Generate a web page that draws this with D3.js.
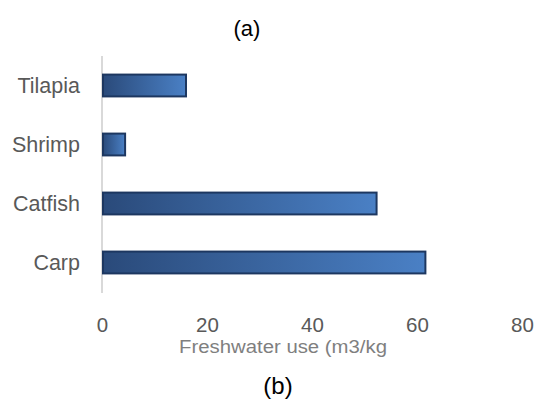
<!DOCTYPE html>
<html><head><meta charset="utf-8">
<script src="https://cdn.jsdelivr.net/npm/d3@7"></script>
<style>body{margin:0;background:#fff}svg{display:block}</style>
</head><body>
<svg id="c" width="538" height="399"></svg>
<script>
const categories = ["Tilapia", "Shrimp", "Catfish", "Carp"];
const values = [16, 4.4, 52.3, 61.6];
const xTicks = [0, 20, 40, 60, 80];
const xTitle = "Freshwater use (m3/kg";
const topLabel = "(a)";
const bottomLabel = "(b)";

const svg = d3.select("#c");
const mLeft = 102, mRight = 522, mTop = 56, mBottom = 292;
const x = d3.scaleLinear().domain([0, 80]).range([mLeft, mRight]);
const y = d3.scaleBand().domain(categories).range([mTop, mBottom]).paddingInner(0.63).paddingOuter(0.315);

const defs = svg.append("defs");
const g = defs.append("linearGradient").attr("id", "bg").attr("x1", "0").attr("x2", "1").attr("y1", "0").attr("y2", "0");
g.append("stop").attr("offset", "0").attr("stop-color", "#2a4a7a");
g.append("stop").attr("offset", "1").attr("stop-color", "#4a80c5");

// axis line
svg.append("line").attr("x1", x(0)).attr("x2", x(0)).attr("y1", mTop).attr("y2", mBottom + 1)
  .attr("stroke", "#d9d9d9").attr("stroke-width", 2);

svg.selectAll("rect.bar").data(categories).join("rect").attr("class", "bar")
  .attr("x", x(0) + 1)
  .attr("y", d => y(d))
  .attr("width", (d, i) => x(values[i]) - x(0) - 1)
  .attr("height", y.bandwidth())
  .attr("fill", "url(#bg)")
  .attr("stroke", "#1d3760").attr("stroke-width", 2);

const font = "'Liberation Sans', Arial, sans-serif";
svg.selectAll("text.cat").data(categories).join("text").attr("class", "cat")
  .attr("x", 80).attr("y", d => y(d) + y.bandwidth() / 2)
  .attr("dy", "0.36em").attr("text-anchor", "end")
  .attr("font-family", font).attr("font-size", 21.5).attr("fill", "#595959")
  .text(d => d);

const xAxis = d3.axisBottom(x).tickValues(xTicks).tickSize(0).tickPadding(0);
const ax = svg.append("g").attr("transform", `translate(0,${mBottom + 40})`).call(xAxis);
ax.select(".domain").remove();
ax.selectAll("text").attr("font-family", font).attr("font-size", 20.5).attr("fill", "#595959").attr("dy", "0");

svg.append("text").attr("x", 179).attr("y", 352.5).attr("text-anchor", "start")
  .attr("textLength", 208).attr("lengthAdjust", "spacingAndGlyphs")
  .attr("font-family", font).attr("font-size", 17.5).attr("fill", "#7f7f7f").text(xTitle);

svg.append("text").attr("x", 247).attr("y", 36).attr("text-anchor", "middle")
  .attr("font-family", font).attr("font-size", 22).attr("fill", "#000").text(topLabel);

svg.append("text").attr("x", 278).attr("y", 394).attr("text-anchor", "middle")
  .attr("font-family", font).attr("font-size", 24).attr("fill", "#000").text(bottomLabel);
</script>
</body></html>
